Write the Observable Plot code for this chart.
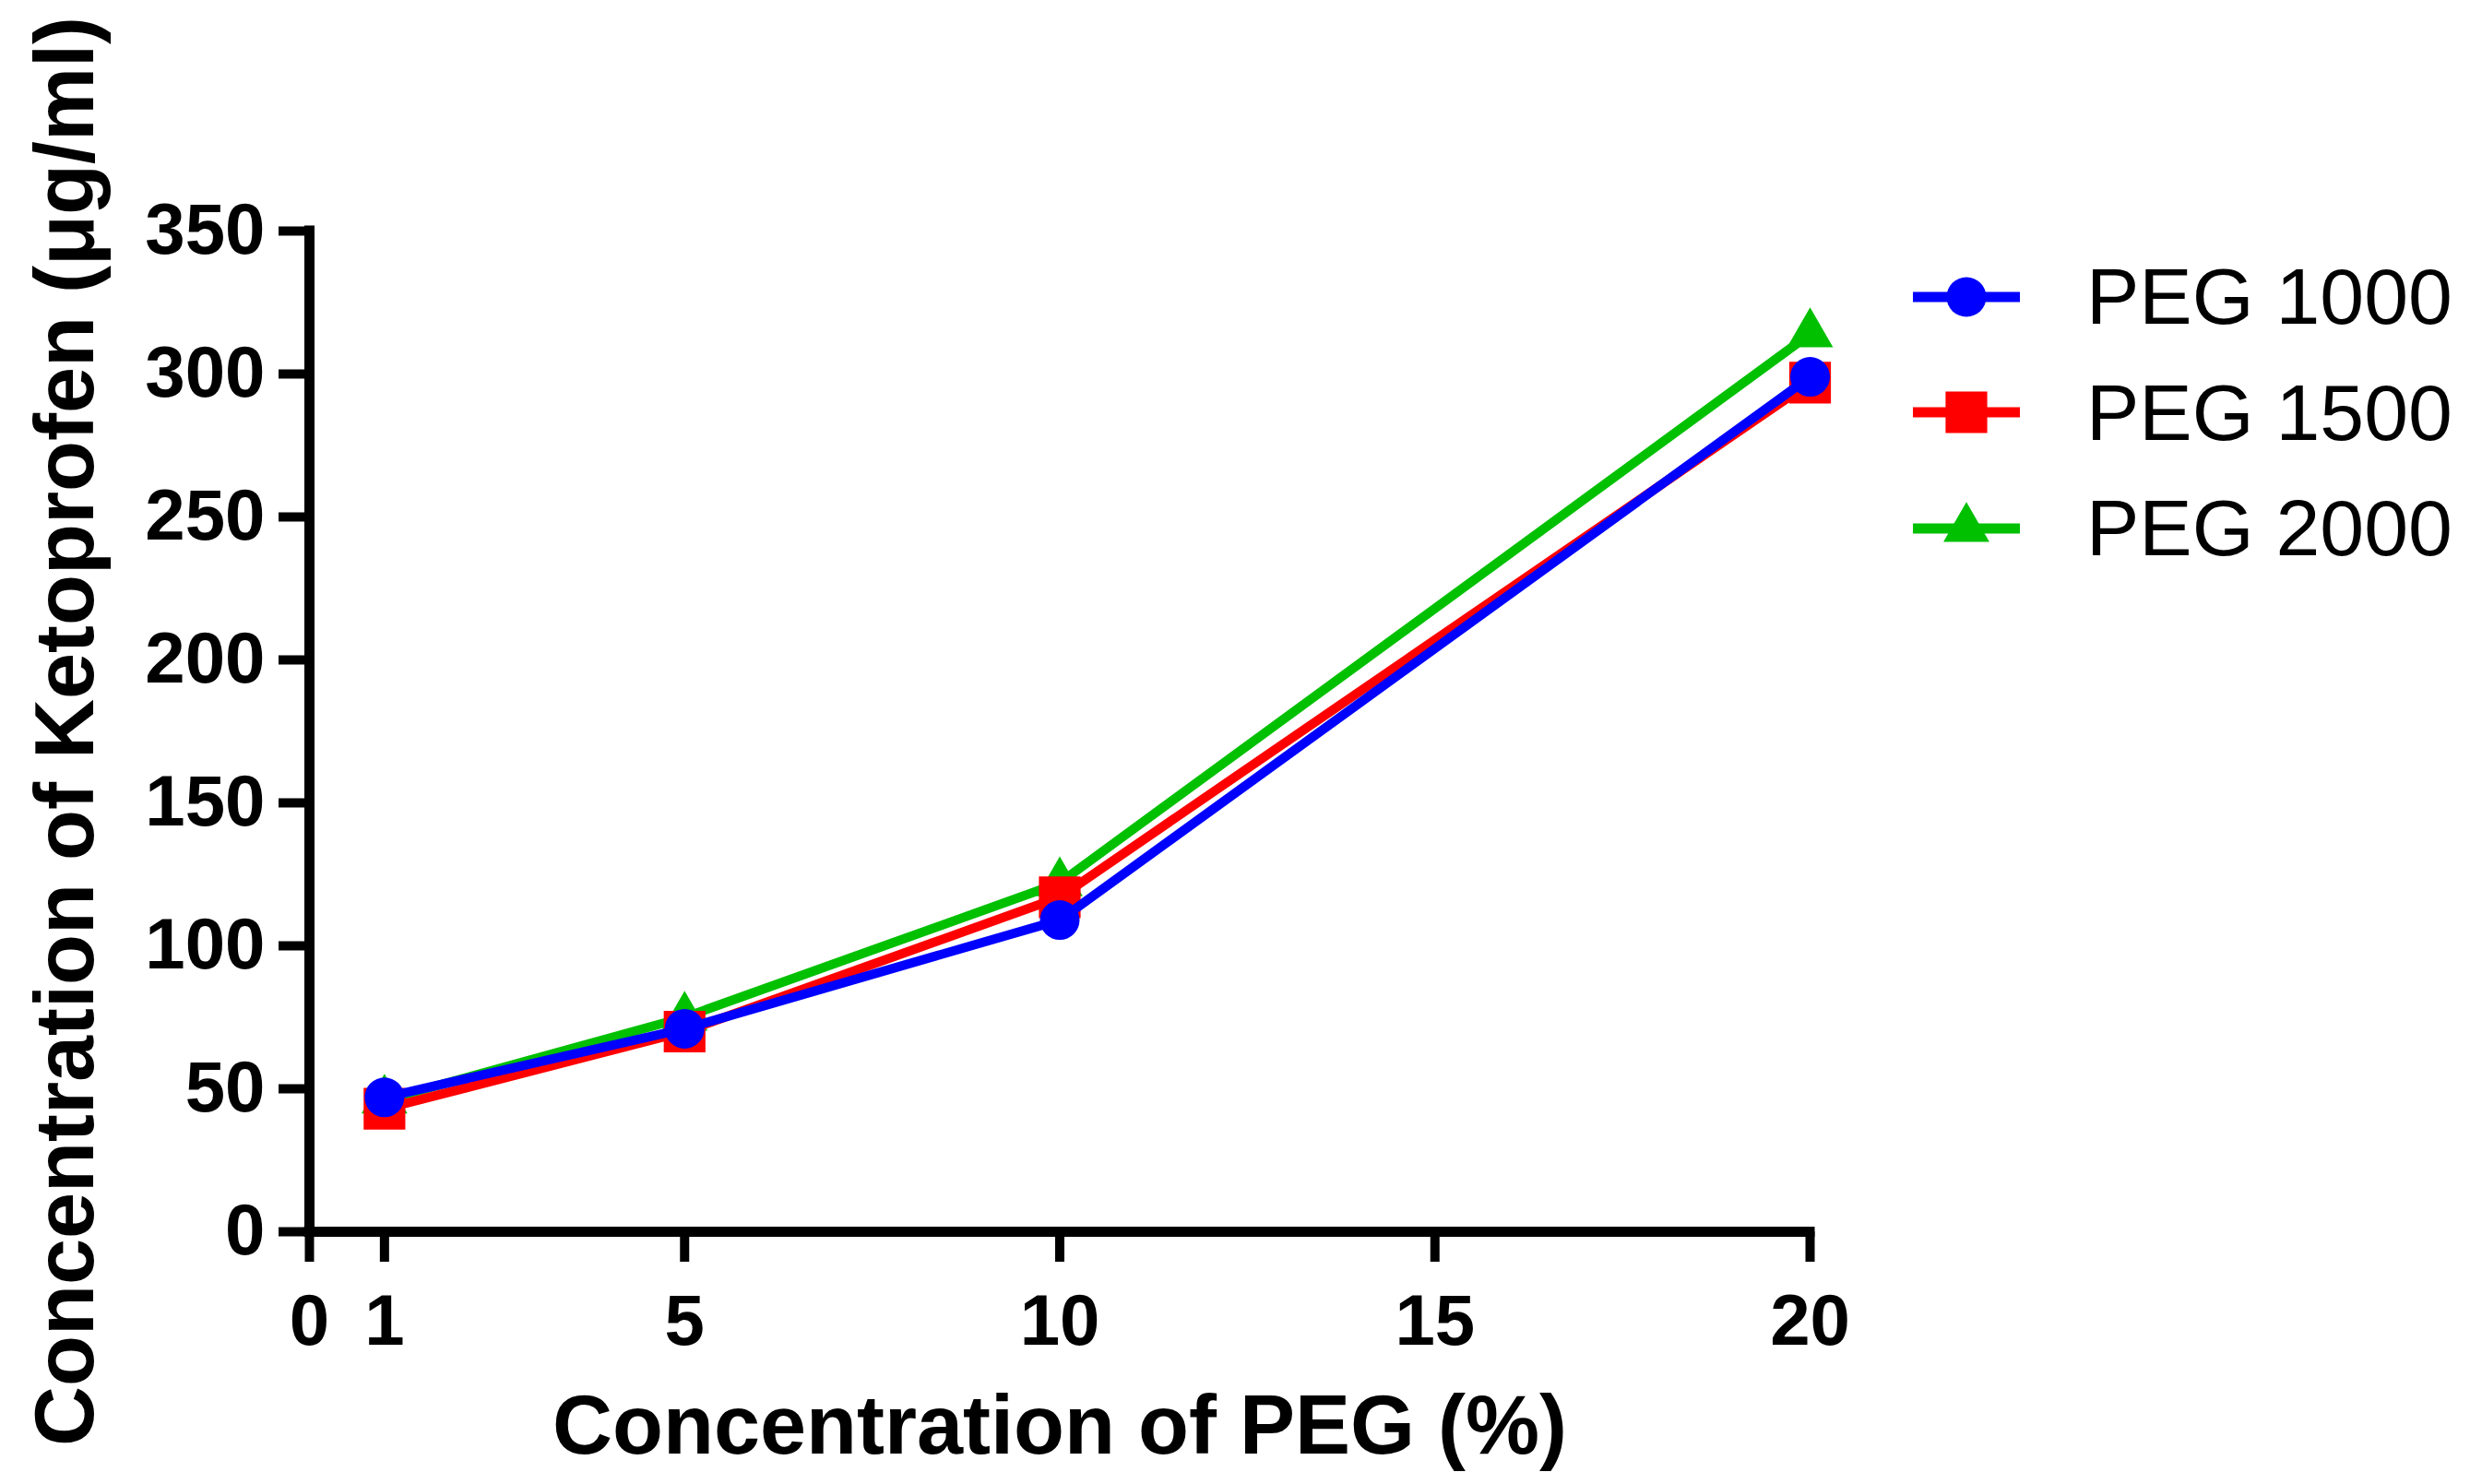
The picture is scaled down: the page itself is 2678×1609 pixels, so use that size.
<!DOCTYPE html>
<html>
<head>
<meta charset="utf-8">
<script src="https://cdn.jsdelivr.net/npm/d3@7"></script>
<script src="https://cdn.jsdelivr.net/npm/@observablehq/plot@0.6"></script>
<style>
  body { margin: 0; background: #fff; }
  #chart { position: relative; width: 2678px; height: 1609px; font-family: "Liberation Sans", Arial, sans-serif; }
  #chart g[aria-label="x-axis label"] text,
  #chart g[aria-label="y-axis label"] text { font-size: 90px; }
  .legend { position: absolute; left: 2074px; top: 259px; }
  .legend .row { display: flex; align-items: center; height: 125.5px; }
  .legend span { margin-left: 72px; font-size: 86px; color: #000; }
</style>
</head>
<body>
<div id="chart"></div>
<script>
// Data
const pegConc = [1, 5, 10, 20];
const peg1000 = [47, 71, 109, 299];
const peg1500 = [43, 70, 117, 297];
const peg2000 = [46, 75, 122, 314];

const seriesNames = ["PEG 1000", "PEG 1500", "PEG 2000"];
const seriesColors = ["#0000ff", "#ff0000", "#00c000"];
const seriesSymbols = ["circle", "square", "triangle"];
const symbolR = {circle: 21.5, square: 25.5, triangle: 18.5};

const xTicks = [0, 1, 5, 10, 15, 20];
const yTicks = [0, 50, 100, 150, 200, 250, 300, 350];

const series = [peg1000, peg1500, peg2000].map((vals, i) => ({
  name: seriesNames[i],
  color: seriesColors[i],
  symbol: seriesSymbols[i],
  rows: pegConc.map((x, j) => ({x, y: vals[j]}))
}));

// GraphPad draws the last series first, so PEG 1000 ends on top
const dataMarks = [];
series.slice().reverse().forEach(s => {
  dataMarks.push(Plot.line(s.rows, {x: "x", y: "y", stroke: s.color, strokeWidth: 10}));
  dataMarks.push(Plot.dot(s.rows, {x: "x", y: "y", symbol: () => s.symbol, fill: s.color, stroke: "none", r: symbolR[s.symbol]}));
});

const plot = Plot.plot({
  width: 2678,
  height: 1609,
  marginLeft: 335,
  marginRight: 716,
  marginTop: 250,
  marginBottom: 274,
  style: {fontFamily: "'Liberation Sans', Arial, sans-serif", fontSize: "78px", fontWeight: "bold", color: "#000", background: "#fff"},
  x: {domain: [0, 20]},
  y: {domain: [0, 350]},
  symbol: {type: "identity"},
  marks: [
    Plot.ruleX([0], {strokeWidth: 11, strokeLinecap: "square"}),
    Plot.ruleY([0], {strokeWidth: 11, strokeLinecap: "square"}),
    Plot.axisX({ticks: xTicks, tickSize: 33, tickPadding: 34, strokeWidth: 10,
      label: "Concentration of PEG (%)", labelAnchor: "center", labelOffset: 240, labelArrow: "none"}),
    Plot.axisY({ticks: yTicks, tickSize: 33, tickPadding: 15, strokeWidth: 10,
      label: "Concentration of Ketoprofen (μg/ml)", labelAnchor: "center", labelOffset: 298, labelArrow: "none"}),
    ...dataMarks
  ]
});

const chart = document.querySelector("#chart");
chart.appendChild(plot);

// Legend: line with marker, then name
const legend = d3.select(chart).append("div").attr("class", "legend");
series.forEach(s => {
  const row = legend.append("div").attr("class", "row");
  const svg = row.append("svg").attr("width", 116).attr("height", 60);
  svg.append("line").attr("x1", 0).attr("x2", 116).attr("y1", 30).attr("y2", 30)
    .attr("stroke", s.color).attr("stroke-width", 11);
  const sym = {circle: d3.symbolCircle, square: d3.symbolSquare, triangle: d3.symbolTriangle}[s.symbol];
  const r = symbolR[s.symbol];
  svg.append("path").attr("transform", "translate(58,30)")
    .attr("d", d3.symbol(sym, Math.PI * r * r)()).attr("fill", s.color);
  row.append("span").text(s.name);
});
</script>
</body>
</html>
